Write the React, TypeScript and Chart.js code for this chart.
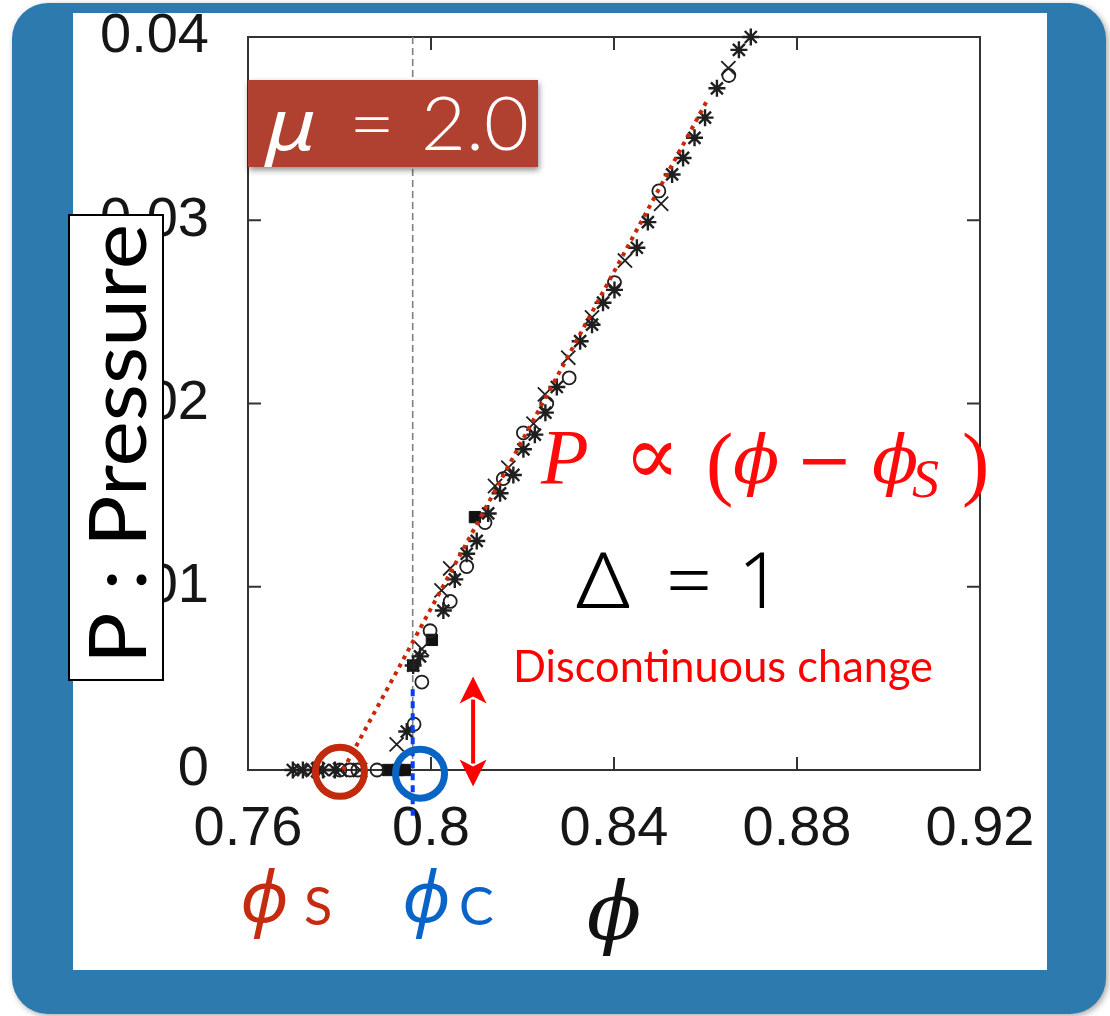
import React, { useEffect, useRef } from 'react';
import { Chart, registerables } from 'chart.js';

Chart.register(...registerables);

const W = 1110;
const H = 1016;

// ---- axes ----
const X_MIN = 0.76;
const X_MAX = 0.92;
const X_STEP = 0.04;
const Y_MIN = 0;
const Y_MAX = 0.04;
const Y_STEP = 0.01;

// ---- data ----
const starPhi = [0.8699, 0.8673, 0.8625, 0.8599, 0.8576, 0.8551, 0.8527, 0.8474, 0.845, 0.8401, 0.8376, 0.8352, 0.8326, 0.8275, 0.825, 0.8227, 0.8202, 0.818, 0.8151, 0.8125, 0.81, 0.8078, 0.8052, 0.8027, 0.7976, 0.7961, 0.7947, 0.7698, 0.772, 0.7742, 0.7764, 0.779];
const starP = [0.04, 0.0393, 0.0372, 0.0356, 0.0345, 0.0334, 0.0325, 0.0299, 0.0285, 0.0262, 0.0255, 0.0243, 0.0234, 0.0209, 0.0195, 0.0183, 0.0175, 0.0161, 0.0151, 0.014, 0.0125, 0.0118, 0.0104, 0.0087, 0.0062, 0.0057, 0.0021, 0, 0, 0, 0, 0];

const crossPhi = [0.865, 0.8503, 0.8424, 0.8352, 0.83, 0.8249, 0.8224, 0.8169, 0.814, 0.8042, 0.8023, 0.798, 0.7925, 0.7714, 0.7753, 0.7801, 0.7845];
const crossP = [0.0383, 0.0309, 0.0278, 0.0247, 0.0225, 0.0205, 0.0189, 0.0165, 0.0155, 0.011, 0.0098, 0.0066, 0.0014, 0, 0, 0, 0];

const circlePhi = [0.8651, 0.8498, 0.8401, 0.8302, 0.8253, 0.8202, 0.8158, 0.8118, 0.8078, 0.8042, 0.7998, 0.798, 0.7963, 0.7801, 0.7823, 0.784, 0.7882];
const circleP = [0.0379, 0.0316, 0.0266, 0.0214, 0.02, 0.0184, 0.0159, 0.0135, 0.0111, 0.0092, 0.0076, 0.0048, 0.0025, 0, 0, 0, 0];

const squarePhi = [0.8096, 0.8002, 0.7961, 0.7906, 0.7928, 0.7943];
const squareP = [0.0138, 0.0071, 0.0057, 0, 0, 0];

// linear fit P ∝ (phi - phiS)
const fitPhi = [0.7808, 0.8605];
const fitP = [0, 0.0366];

// critical packing fraction (dashed) and discontinuous jump (blue dotted)
const criticalPhi = [0.796, 0.796];
const criticalP = [0, 0.04];
const jumpPhi = [0.796, 0.796];
const jumpP = [0.0044, -0.0025];

// annotation anchors
const phiSMark = { x: 0.7801, y: -0.0001 };
const phiCMark = { x: 0.7976, y: -0.0002 };
const arrowPhi = 0.8092;
const arrowP = [0.0051, -0.0009];

const pts = (xs: number[], ys: number[]) => xs.map((x, i) => ({ x, y: ys[i] }));

const MARK = '#1f1f1f';

function fitText(ctx: CanvasRenderingContext2D, text: string, x: number, y: number, width: number, font: string, color: string) {
  ctx.save();
  ctx.font = font;
  ctx.textBaseline = 'alphabetic';
  ctx.textAlign = 'left';
  const m = ctx.measureText(text).width || 1;
  ctx.translate(x, y);
  ctx.scale(width / m, 1);
  ctx.fillStyle = color;
  ctx.fillText(text, 0, 0);
  ctx.restore();
}

function plainText(ctx: CanvasRenderingContext2D, text: string, x: number, y: number, font: string, color: string) {
  ctx.save();
  ctx.font = font;
  ctx.textBaseline = 'alphabetic';
  ctx.textAlign = 'left';
  ctx.fillStyle = color;
  ctx.fillText(text, x, y);
  ctx.restore();
}

const backgroundPlugin = {
  id: 'panelBackground',
  beforeDraw(chart: any) {
    const ctx = chart.ctx as CanvasRenderingContext2D;
    ctx.save();
    ctx.fillStyle = '#ffffff';
    ctx.fillRect(0, 0, W, H);
    ctx.shadowColor = 'rgba(0,0,0,0.35)';
    ctx.shadowBlur = 6;
    ctx.shadowOffsetX = 2;
    ctx.shadowOffsetY = 2;
    ctx.fillStyle = '#2d7bae';
    ctx.beginPath();
    (ctx as any).roundRect(12, 3, 1094, 1011, 36);
    ctx.fill();
    ctx.shadowColor = 'transparent';
    ctx.fillStyle = '#ffffff';
    ctx.fillRect(73, 13, 974, 957);
    ctx.restore();
  },
};

const framePlugin = {
  id: 'frameTicks',
  beforeDatasetsDraw(chart: any) {
    const ctx = chart.ctx as CanvasRenderingContext2D;
    const { left, right, top, bottom } = chart.chartArea;
    const xs = chart.scales.x;
    const ys = chart.scales.y;
    ctx.save();
    ctx.strokeStyle = '#333333';
    ctx.lineWidth = 2;
    ctx.strokeRect(left, top, right - left, bottom - top);
    const TL = 13;
    ctx.beginPath();
    xs.ticks.forEach((t: any) => {
      const px = xs.getPixelForValue(t.value);
      if (px <= left + 2 || px >= right - 2) return;
      ctx.moveTo(px, bottom);
      ctx.lineTo(px, bottom - TL);
      ctx.moveTo(px, top);
      ctx.lineTo(px, top + TL);
    });
    ys.ticks.forEach((t: any) => {
      const py = ys.getPixelForValue(t.value);
      if (py <= top + 2 || py >= bottom - 2) return;
      ctx.moveTo(left, py);
      ctx.lineTo(left + TL, py);
      ctx.moveTo(right, py);
      ctx.lineTo(right - TL, py);
    });
    ctx.stroke();
    ctx.restore();
  },
};

const annotationPlugin = {
  id: 'annotations',
  afterDraw(chart: any) {
    const ctx = chart.ctx as CanvasRenderingContext2D;
    const xs = chart.scales.x;
    const ys = chart.scales.y;
    ctx.save();

    // circles marking phi_S and phi_C
    const ring = (m: { x: number; y: number }, color: string) => {
      ctx.beginPath();
      ctx.arc(xs.getPixelForValue(m.x), ys.getPixelForValue(m.y), 24.5, 0, Math.PI * 2);
      ctx.strokeStyle = color;
      ctx.lineWidth = 7;
      ctx.stroke();
    };
    ring(phiSMark, '#c22a0e');
    ring(phiCMark, '#0a64c4');

    // double arrow
    const ax = xs.getPixelForValue(arrowPhi);
    const ay1 = ys.getPixelForValue(arrowP[0]);
    const ay2 = ys.getPixelForValue(arrowP[1]);
    const head = 27;
    ctx.strokeStyle = '#ff0000';
    ctx.fillStyle = '#ff0000';
    ctx.lineWidth = 4;
    ctx.beginPath();
    ctx.moveTo(ax, ay1 + head - 4);
    ctx.lineTo(ax, ay2 - head + 4);
    ctx.stroke();
    ctx.beginPath();
    ctx.moveTo(ax, ay1);
    ctx.lineTo(ax - 13.5, ay1 + head);
    ctx.lineTo(ax, ay1 + head - 7);
    ctx.lineTo(ax + 13.5, ay1 + head);
    ctx.closePath();
    ctx.fill();
    ctx.beginPath();
    ctx.moveTo(ax, ay2);
    ctx.lineTo(ax - 13.5, ay2 - head);
    ctx.lineTo(ax, ay2 - head + 7);
    ctx.lineTo(ax + 13.5, ay2 - head);
    ctx.closePath();
    ctx.fill();

    // mu box
    ctx.save();
    ctx.shadowColor = 'rgba(0,0,0,0.45)';
    ctx.shadowBlur = 6;
    ctx.shadowOffsetX = 1;
    ctx.shadowOffsetY = 3;
    ctx.fillStyle = '#b04030';
    ctx.fillRect(248, 80, 290, 87);
    ctx.restore();
    fitText(ctx, 'μ', 266, 150, 50, "italic 72px 'Noto Sans'", '#ffffff');
    fitText(ctx, '=', 349, 150, 46, "300 74px Lato, 'Noto Sans'", '#ffffff');
    fitText(ctx, '2.0', 421, 150, 108, "300 74px Lato, 'Noto Sans'", '#ffffff');

    // y-axis label box
    ctx.fillStyle = '#ffffff';
    ctx.fillRect(69, 215, 94, 465);
    ctx.strokeStyle = '#000000';
    ctx.lineWidth = 2;
    ctx.strokeRect(69, 215, 94, 465);
    ctx.save();
    ctx.translate(146, 664);
    ctx.rotate(-Math.PI / 2);
    fitText(ctx, 'P : Pressure', 0, 0, 440, "80px Lato, 'Noto Sans'", '#000000');
    ctx.restore();

    // P ∝ (phi - phi_S)
    const red = '#ff0a0a';
    plainText(ctx, 'P', 541, 483, "italic 78px 'Liberation Serif'", red);
    fitText(ctx, '∝', 624, 484, 56, "84px 'DejaVu Serif'", red);
    plainText(ctx, '(', 706, 490, "82px 'Liberation Serif'", red);
    plainText(ctx, 'ϕ', 733, 483, "italic 68px 'DejaVu Serif'", red);
    plainText(ctx, '−', 796, 483, "68px 'DejaVu Serif'", red);
    plainText(ctx, 'ϕ', 872, 483, "italic 68px 'DejaVu Serif'", red);
    plainText(ctx, 'S', 912, 497, "italic 54px 'Liberation Serif'", red);
    plainText(ctx, ')', 962, 490, "82px 'Liberation Serif'", red);

    // Δ = 1
    fitText(ctx, 'Δ', 576, 608, 54, "300 77px 'Noto Sans'", '#000000');
    fitText(ctx, '=', 666, 608, 46, "300 77px 'Noto Sans'", '#000000');
    plainText(ctx, '1', 738, 608, "300 77px 'Noto Sans'", '#000000');

    // Discontinuous change
    fitText(ctx, 'Discontinuous change', 513, 682, 420, "44px Lato, 'Noto Sans'", '#ff0000');

    // phi_S and phi_C labels
    plainText(ctx, 'ϕ', 240, 922, "italic 72px 'Noto Sans'", '#c42b10');
    plainText(ctx, 'S', 304, 925, "52px Lato, 'Noto Sans'", '#c42b10');
    plainText(ctx, 'ϕ', 402, 922, "italic 72px 'Noto Sans'", '#0a64c8');
    plainText(ctx, 'C', 459, 925, "52px Lato, 'Noto Sans'", '#0a64c8');

    ctx.restore();
  },
};

const fmtTick = (v: any) => String(Number(Number(v).toFixed(3)));

export default function App() {
  const ref = useRef<HTMLCanvasElement>(null);
  useEffect(() => {
    document.body.style.margin = '0';
    if (!ref.current) return;
    const tickFont = { family: "'Liberation Sans', Arial, sans-serif", size: 56 };
    const chart = new Chart(ref.current, {
      type: 'scatter',
      data: {
        datasets: [
          {
            label: 'fit',
            data: pts(fitPhi, fitP),
            showLine: true,
            borderColor: '#c8280a',
            borderWidth: 4,
            borderDash: [4, 5],
            pointRadius: 0,
            clip: false,
          } as any,
          {
            label: 'jump',
            data: pts(jumpPhi, jumpP),
            showLine: true,
            borderColor: '#0a3cff',
            borderWidth: 4,
            borderDash: [7, 5],
            pointRadius: 0,
            clip: false,
          },
          {
            label: 'star',
            data: pts(starPhi, starP),
            pointStyle: 'star',
            pointRadius: 8.5,
            borderColor: MARK,
            backgroundColor: MARK,
            pointBorderWidth: 2.4,
            clip: false,
          },
          {
            label: 'cross',
            data: pts(crossPhi, crossP),
            pointStyle: 'crossRot',
            pointRadius: 10,
            borderColor: MARK,
            backgroundColor: MARK,
            pointBorderWidth: 1.8,
            clip: false,
          },
          {
            label: 'circle',
            data: pts(circlePhi, circleP),
            pointStyle: 'circle',
            pointRadius: 6.5,
            borderColor: MARK,
            backgroundColor: 'rgba(255,255,255,0)',
            pointBorderWidth: 1.8,
            clip: false,
          },
          {
            label: 'square',
            data: pts(squarePhi, squareP),
            pointStyle: 'rect',
            pointRadius: 8,
            borderColor: '#111111',
            backgroundColor: '#111111',
            pointBorderWidth: 1,
            clip: false,
          },
          {
            label: 'critical',
            data: pts(criticalPhi, criticalP),
            showLine: true,
            borderColor: '#808080',
            borderWidth: 1.6,
            borderDash: [7, 4],
            pointRadius: 0,
            clip: false,
          },
        ],
      },
      options: {
        responsive: false,
        animation: false,
        devicePixelRatio: 1,
        layout: { padding: { left: 0, top: 37, right: 130, bottom: 0 } },
        plugins: {
          legend: { display: false },
          tooltip: { enabled: false },
        },
        scales: {
          x: {
            type: 'linear',
            min: X_MIN,
            max: X_MAX,
            ticks: {
              stepSize: X_STEP,
              padding: 26,
              color: '#161616',
              font: tickFont,
              maxRotation: 0,
              autoSkip: false,
              callback: fmtTick,
            },
            grid: { display: false, drawTicks: false },
            border: { display: false },
            title: {
              display: true,
              text: 'ϕ',
              color: '#111111',
              font: { family: "'DejaVu Serif', serif", size: 80, style: 'italic' },
              padding: { top: 0, bottom: 50 },
            },
            afterFit: (s: any) => {
              s.height = 246;
              s.paddingLeft = 0;
              s.paddingRight = 0;
            },
          },
          y: {
            type: 'linear',
            min: Y_MIN,
            max: Y_MAX,
            ticks: {
              stepSize: Y_STEP,
              padding: 39,
              color: '#161616',
              font: tickFont,
              autoSkip: false,
              callback: fmtTick,
            },
            grid: { display: false, drawTicks: false },
            border: { display: false },
            afterFit: (s: any) => {
              s.width = 248;
              s.paddingTop = 0;
              s.paddingBottom = 0;
            },
          },
        },
      },
      plugins: [backgroundPlugin, framePlugin, annotationPlugin],
    } as any);
    return () => chart.destroy();
  }, []);
  return (
    <div style={{ position: 'absolute', left: 0, top: 0, width: W, height: H }}>
      <canvas ref={ref} width={W} height={H} style={{ display: 'block', width: W, height: H }} />
    </div>
  );
}
